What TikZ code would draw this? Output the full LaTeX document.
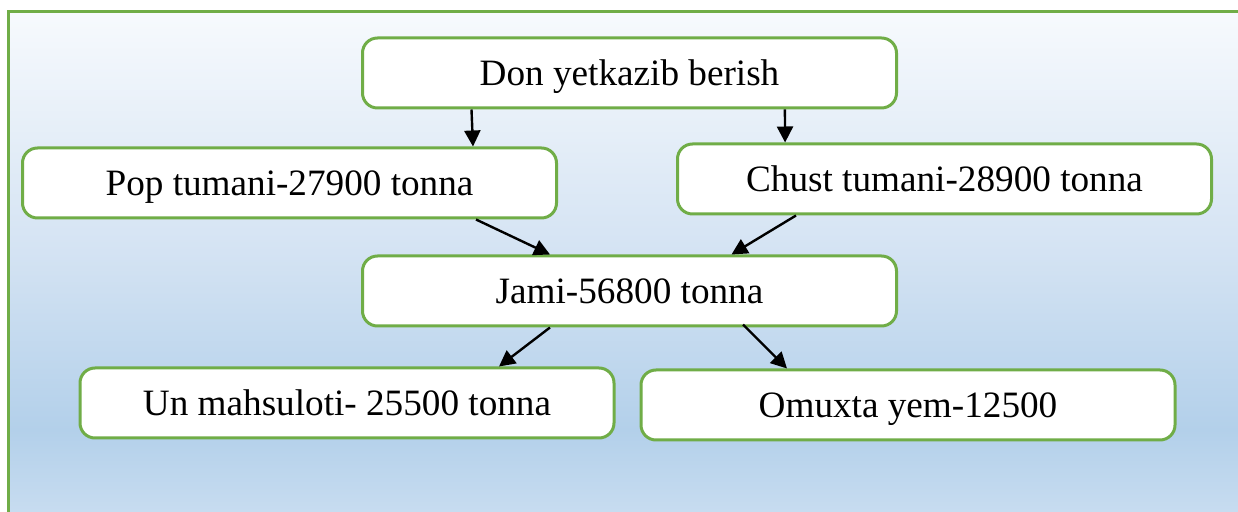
\documentclass[tikz,border=0pt]{standalone}
\usepackage{fontspec}
\setmainfont{Liberation Serif}
\usetikzlibrary{arrows.meta}
\definecolor{gframe}{HTML}{70AD47}
\definecolor{bgA}{HTML}{F7FAFD}
\definecolor{bgB}{HTML}{D4E3F3}
\definecolor{bgC}{HTML}{B3D0EA}
\definecolor{bgD}{HTML}{C7DCF0}
\pgfdeclareverticalshading{bgshade}{100bp}{color(0bp)=(bgD); color(25bp)=(bgD); color(33.2bp)=(bgC); color(51bp)=(bgB); color(75bp)=(bgA); color(100bp)=(bgA)}
\tikzset{
  box/.style={draw=gframe, line width=1.5pt, fill=white, rounded corners=7.5pt,
    minimum width=267pt, minimum height=35pt, inner sep=0pt,
    text height=12.3pt, text depth=0pt,
    font=\fontsize{18.6pt}{22pt}\selectfont},
  arr/.style={-{Triangle[length=8pt,width=8pt]}, line width=1.2pt, black},
}
\begin{document}
\begin{tikzpicture}[x=0.5pt,y=-0.5pt]
\useasboundingbox (0,0) rectangle (1238,512);
\begin{scope}
\clip (0,0) rectangle (1238,512);
\shade[shading=bgshade] (8,11) rectangle (1238,512);
\draw[gframe, line width=1.5pt] (8.5,11.5) rectangle (1250,525);
\end{scope}
\node[box] (don) at (629.5,73) {Don yetkazib berish};
\node[box] (pop) at (289.5,183) {Pop tumani-27900 tonna};
\node[box] (chust) at (944.5,179) {Chust tumani-28900 tonna};
\node[box] (jami) at (629.5,291) {Jami-56800 tonna};
\node[box] (un) at (347,403) {Un mahsuloti- 25500 tonna};
\node[box] (omux) at (908,405) {Omuxta yem-12500};
\draw[arr] ([xshift=-79pt]don.south) -- ([xshift=91.75pt]pop.north);
\draw[arr] ([xshift=77.7pt]don.south) -- ([xshift=-79.7pt]chust.north);
\draw[arr] ([xshift=93.25pt]pop.south) -- ([xshift=-39.75pt]jami.north);
\draw[arr] ([xshift=-74.25pt]chust.south) -- ([xshift=51pt]jami.north);
\draw[arr] ([xshift=-39.75pt]jami.south) -- ([xshift=76pt]un.north);
\draw[arr] ([xshift=56.75pt,yshift=1.5pt]jami.south) -- ([xshift=-60.5pt]omux.north);
\end{tikzpicture}
\end{document}
